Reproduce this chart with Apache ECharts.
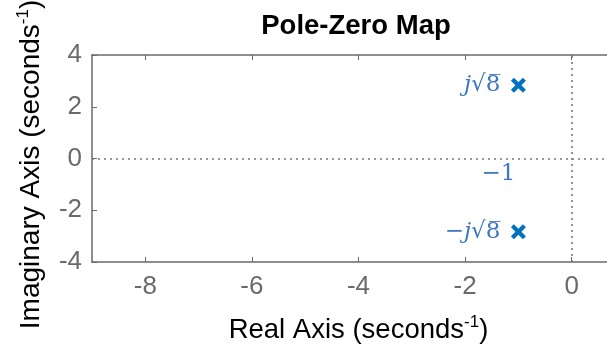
<!DOCTYPE html>
<html>
<head>
<meta charset="utf-8">
<script src="https://cdn.jsdelivr.net/npm/echarts@6/dist/echarts.min.js"></script>
<style>
  html, body { margin: 0; padding: 0; background: #fff; }
  #chart { width: 607px; height: 345px; }
</style>
</head>
<body>
<div id="chart"></div>
<script>
// poles of the system
const poleRe = [-1, -1];
const poleIm = [2.83, -2.83];
// text annotations
const noteX = [-1, -1, -1];
const noteY = [2.83, 0, -2.83];
const noteText = ['{i|j}√8\u0305', '−1', '−{i|j}√8\u0305'];
const xTicks = [-8, -6, -4, -2, 0];

const chart = echarts.init(document.getElementById('chart'));

const font = '"Liberation Sans", Arial, sans-serif';
const serif = '"DejaVu Serif", serif';
const axisGray = '#6a6a6a';
const poleBlue = '#0072BD';
const noteBlue = '#3d78c0';

const option = {
  animation: false,
  backgroundColor: '#fff',
  title: {
    text: 'Pole-Zero Map',
    left: 351,
    textAlign: 'center',
    top: 7,
    textStyle: { fontFamily: font, fontWeight: 'bold', fontSize: 27.5, color: '#000' }
  },
  grid: { left: 92, top: 55, width: 533, height: 207, outerBoundsMode: 'none' },
  xAxis: [{
    type: 'value',
    min: -9, max: 1,
    position: 'bottom',
    splitLine: { show: false },
    axisLine: { onZero: false, lineStyle: { color: axisGray, width: 1.5 } },
    axisTick: { inside: true, length: 5, customValues: xTicks, lineStyle: { color: axisGray } },
    axisLabel: {
      customValues: xTicks, margin: 12,
      fontFamily: font, fontSize: 26, color: axisGray,
      formatter: v => String(v)
    },
    name: 'Real Axis (seconds{s|-1})',
    nameLocation: 'middle',
    nameGap: 52,
    nameTextStyle: {
      fontFamily: font, fontSize: 27.5, color: '#000',
      rich: { s: { fontFamily: font, fontSize: 17, color: '#000', padding: [0, 0, 16, 0] } }
    }
  }, {
    type: 'value',
    min: -9, max: 1,
    position: 'top',
    splitLine: { show: false },
    axisLine: { onZero: false, lineStyle: { color: axisGray, width: 1.5 } },
    axisTick: { inside: true, length: 5, customValues: xTicks, lineStyle: { color: axisGray } },
    axisLabel: { show: false }
  }],
  yAxis: {
    type: 'value',
    min: -4, max: 4, interval: 2,
    splitLine: { show: false },
    axisLine: { show: true, onZero: false, lineStyle: { color: axisGray, width: 1.5 } },
    axisTick: { show: true, inside: true, length: 5, lineStyle: { color: axisGray } },
    axisLabel: { margin: 10, fontFamily: font, fontSize: 26, color: axisGray },
    name: 'Imaginary Axis (seconds{s|-1})',
    nameLocation: 'middle',
    nameGap: 44,
    nameTextStyle: {
      fontFamily: font, fontSize: 28, color: '#000',
      padding: [0, 12, 0, 0],
      rich: { s: { fontFamily: font, fontSize: 17, color: '#000', padding: [0, 0, 16, 0] } }
    }
  },
  series: [{
    type: 'scatter',
    data: poleRe.map((x, k) => [x, poleIm[k]]),
    symbol: 'path://M2,0 L5,3 L8,0 L10,2 L7,5 L10,8 L8,10 L5,7 L2,10 L0,8 L3,5 L0,2 Z',
    symbolSize: 15,
    itemStyle: { color: poleBlue, opacity: 1 },
    markLine: {
      silent: true,
      symbol: 'none',
      label: { show: false },
      lineStyle: { color: '#777', type: [2, 4], width: 1.6 },
      data: [{ xAxis: 0 }, { yAxis: 0 }]
    },
    z: 5
  }, {
    type: 'scatter',
    symbolSize: 0,
    itemStyle: { opacity: 1 },
    data: noteX.map((x, k) => [x, noteY[k]]),
    label: {
      show: true,
      formatter: p => noteText[p.dataIndex],
      fontFamily: serif,
      fontSize: 23,
      color: noteBlue,
      rich: { i: { fontFamily: serif, fontStyle: 'italic', fontSize: 23, color: noteBlue } },
      position: 'left',
      distance: 18
    },
    labelLayout: p => p.dataIndex === 1 ? { dx: 15, dy: 16 } : {},
    z: 4
  }]
};

chart.setOption(option);
</script>
</body>
</html>
